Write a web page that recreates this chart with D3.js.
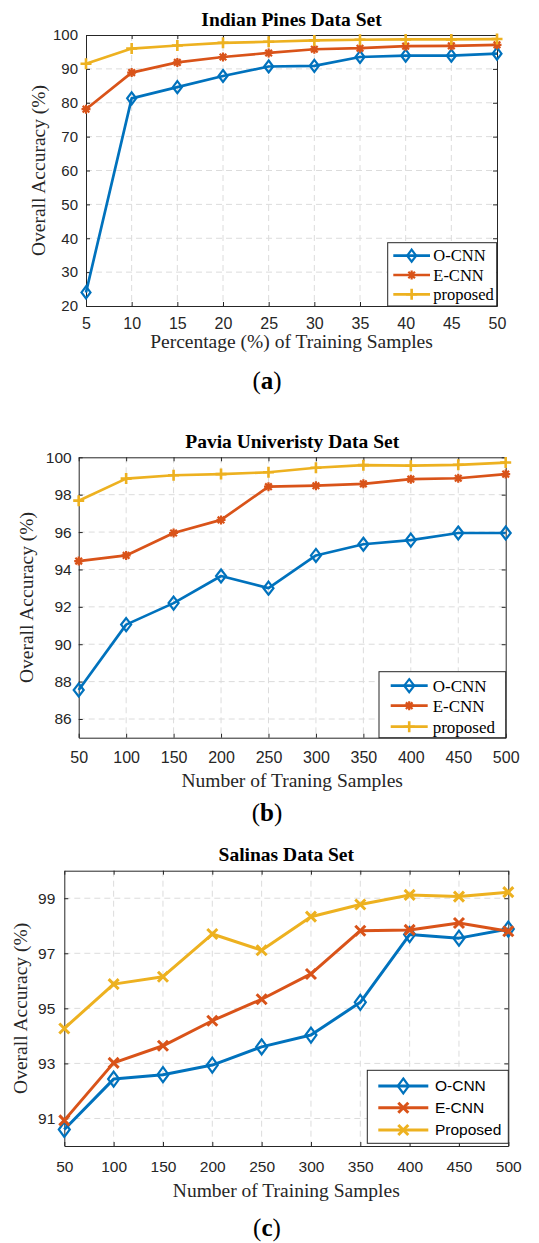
<!DOCTYPE html>
<html>
<head>
<meta charset="utf-8">
<script src="https://cdn.jsdelivr.net/npm/d3@7"></script>
<style>
  body { margin: 0; background: #fff; }
  svg { display: block; }
</style>
</head>
<body>
<svg id="fig" width="539" height="1243"></svg>
<script>
// ---- Indian Pines: accuracy vs. percentage of training samples ----
const pinesPercent  = [5, 10, 15, 20, 25, 30, 35, 40, 45, 50];
const pinesOCNN     = [24.0, 81.3, 84.6, 87.9, 90.7, 90.9, 93.5, 93.9, 93.9, 94.5];
const pinesECNN     = [78.1, 88.9, 91.9, 93.5, 94.7, 95.8, 96.1, 96.7, 96.8, 97.1];
const pinesProposed = [91.5, 96.0, 96.9, 97.7, 98.0, 98.4, 98.6, 98.7, 98.7, 98.8];
const pinesYTicks   = [20, 30, 40, 50, 60, 70, 80, 90, 100];

// ---- Pavia University: accuracy vs. number of training samples ----
const paviaSamples  = [50, 100, 150, 200, 250, 300, 350, 400, 450, 500];
const paviaOCNN     = [87.55, 91.05, 92.2, 93.65, 93.0, 94.75, 95.35, 95.57, 95.95, 95.95];
const paviaECNN     = [94.45, 94.75, 95.95, 96.65, 98.43, 98.48, 98.58, 98.83, 98.88, 99.1];
const paviaProposed = [97.68, 98.86, 99.04, 99.1, 99.2, 99.44, 99.58, 99.55, 99.6, 99.72];
const paviaYTicks   = [86, 88, 90, 92, 94, 96, 98, 100];

// ---- Salinas: accuracy vs. number of training samples ----
const salinasSamples  = [50, 100, 150, 200, 250, 300, 350, 400, 450, 500];
const salinasOCNN     = [90.6, 92.43, 92.59, 92.94, 93.6, 94.03, 95.22, 97.68, 97.55, 97.88];
const salinasECNN     = [90.93, 93.02, 93.64, 94.55, 95.33, 96.25, 97.82, 97.85, 98.1, 97.8];
const salinasProposed = [94.27, 95.88, 96.15, 97.7, 97.11, 98.33, 98.77, 99.12, 99.06, 99.22];
const salinasYTicks   = [91, 93, 95, 97, 99];

const seriesColors = ["#0072BD", "#D95319", "#EDB120"];
const axisColor = "#262626";
const gridColor = "#dcdcdc";

const panels = [
  {
    title: "Indian Pines Data Set",
    xLabel: "Percentage (%) of Training Samples",
    caption: "a",
    x: pinesPercent, xTicks: pinesPercent,
    yDomain: [20, 100], yTicks: pinesYTicks,
    series: [pinesOCNN, pinesECNN, pinesProposed],
    names: ["O-CNN", "E-CNN", "proposed"],
    markers: ["diamond", "asterisk", "plus"],
    layout: {
      left: 86, right: 497, top: 35, bottom: 306,
      titleY: 26, xLabelY: 348, captionY: 389, yLabelX: 38.5,
      xPad: 12, yPad: 8, xTickFont: 16, yTickFont: 15,
      lineW: 2.7, dia: [4.5, 6], legendSans: false,
      legend: { x0: 387.7, x1: 496.7, y0: 242.7, y1: 306, rows: [255.7, 275, 294.3],
                lineX0: 393.3, lineX1: 430, textX: 433.3, font: 16.5 }
    }
  },
  {
    title: "Pavia Univeristy Data Set",
    xLabel: "Number of Traning Samples",
    caption: "b",
    x: paviaSamples, xTicks: paviaSamples,
    yDomain: [85, 100], yTicks: paviaYTicks,
    series: [paviaOCNN, paviaECNN, paviaProposed],
    names: ["O-CNN", "E-CNN", "proposed"],
    markers: ["diamond", "asterisk", "plus"],
    layout: {
      left: 78.7, right: 505.7, top: 457.3, bottom: 737.7,
      titleY: 447.7, xLabelY: 786.7, captionY: 821, yLabelX: 26,
      xPad: 14, yPad: 7, xTickFont: 16, yTickFont: 15.5,
      lineW: 2.7, dia: [5, 6.5], legendSans: false,
      legend: { x0: 379, x1: 505.7, y0: 671.7, y1: 737.7, rows: [685.7, 705.7, 726.7],
                lineX0: 390.7, lineX1: 427.7, textX: 432.7, font: 17 }
    }
  },
  {
    title: "Salinas Data Set",
    xLabel: "Number of Training Samples",
    caption: "c",
    x: salinasSamples, xTicks: salinasSamples,
    yDomain: [90, 100], yTicks: salinasYTicks,
    series: [salinasOCNN, salinasECNN, salinasProposed],
    names: ["O-CNN", "E-CNN", "Proposed"],
    markers: ["diamond", "cross", "cross"],
    layout: {
      left: 64.3, right: 508.3, top: 870.7, bottom: 1146,
      titleY: 860.7, xLabelY: 1196.7, captionY: 1236, yLabelX: 20,
      xPad: 15, yPad: 9, xTickFont: 15.5, yTickFont: 15.5,
      lineW: 3, dia: [5.5, 7.5], legendSans: true,
      legend: { x0: 367.3, x1: 508.3, y0: 1070.3, y1: 1143.3, rows: [1086, 1107.7, 1130],
                lineX0: 378.3, lineX1: 428.3, textX: 435, font: 15.5 }
    }
  }
];

const svg = d3.select("#fig");
const serif = "'Liberation Serif', 'Times New Roman', serif";
const sans = "'Liberation Sans', Arial, Helvetica, sans-serif";

// Marker shapes drawn as paths centred on (0,0)
function markerPath(kind, L) {
  switch (kind) {
    case "diamond": {
      const w = L.dia[0], h = L.dia[1];
      return `M0,${-h}L${w},0L0,${h}L${-w},0Z`;
    }
    case "plus":
      return "M-5.5,0H5.5M0,-5.5V5.5";
    case "asterisk":
      return "M-4.5,0H4.5M0,-4.5V4.5M-3.3,-3.3L3.3,3.3M-3.3,3.3L3.3,-3.3";
    case "cross":
      return "M-5,-5L5,5M-5,5L5,-5";
  }
}
function markerStroke(kind) {
  if (kind === "diamond") return 2.2;
  if (kind === "cross") return 3;
  if (kind === "plus") return 2.6;
  return 2.2;
}

panels.forEach(p => {
  const L = p.layout;
  const g = svg.append("g");
  const xs = d3.scaleLinear().domain(d3.extent(p.x)).range([L.left, L.right]);
  const ys = d3.scaleLinear().domain(p.yDomain).range([L.bottom, L.top]);

  // white plot area
  g.append("rect").attr("x", L.left).attr("y", L.top)
    .attr("width", L.right - L.left).attr("height", L.bottom - L.top).attr("fill", "#fff");

  // dashed grid
  const grid = g.append("g").attr("stroke", gridColor).attr("stroke-width", 1)
    .attr("stroke-dasharray", "6,4");
  grid.selectAll("line.v").data(p.xTicks.slice(1, -1)).join("line")
    .attr("x1", d => xs(d)).attr("x2", d => xs(d)).attr("y1", L.top).attr("y2", L.bottom);
  grid.selectAll("line.h").data(p.yTicks.filter(t => t > p.yDomain[0] && t < p.yDomain[1])).join("line")
    .attr("y1", d => ys(d)).attr("y2", d => ys(d)).attr("x1", L.left).attr("x2", L.right);

  // axes: labelled bottom/left, unlabelled top/right, all ticks pointing inward
  const styleAxis = (sel, fontSize) => {
    sel.selectAll("path.domain").attr("stroke", axisColor).attr("stroke-width", 1);
    sel.selectAll(".tick line").attr("stroke", axisColor).attr("stroke-width", 1);
    sel.selectAll(".tick text").attr("fill", axisColor)
      .style("font-family", sans).style("font-size", fontSize + "px");
  };
  const xAxis = g.append("g").attr("transform", `translate(0,${L.bottom})`)
    .call(d3.axisBottom(xs).tickValues(p.xTicks).tickSizeInner(-4).tickSizeOuter(0).tickPadding(L.xPad));
  styleAxis(xAxis, L.xTickFont);
  const yAxis = g.append("g").attr("transform", `translate(${L.left},0)`)
    .call(d3.axisLeft(ys).tickValues(p.yTicks).tickSizeInner(-4).tickSizeOuter(0).tickPadding(L.yPad));
  styleAxis(yAxis, L.yTickFont);
  const xTop = g.append("g").attr("transform", `translate(0,${L.top})`)
    .call(d3.axisTop(xs).tickValues(p.xTicks).tickSizeInner(-4).tickSizeOuter(0).tickFormat(""));
  styleAxis(xTop, 10);
  const yRight = g.append("g").attr("transform", `translate(${L.right},0)`)
    .call(d3.axisRight(ys).tickValues(p.yTicks).tickSizeInner(-4).tickSizeOuter(0).tickFormat(""));
  styleAxis(yRight, 10);

  // series lines and markers
  const line = d3.line().x((d, i) => xs(p.x[i])).y(d => ys(d));
  p.series.forEach((vals, si) => {
    const col = seriesColors[si];
    g.append("path").datum(vals).attr("d", line).attr("fill", "none")
      .attr("stroke", col).attr("stroke-width", L.lineW).attr("stroke-linejoin", "round");
    g.selectAll(null).data(vals).join("path")
      .attr("transform", (d, i) => `translate(${xs(p.x[i])},${ys(d)})`)
      .attr("d", markerPath(p.markers[si], L)).attr("fill", "none")
      .attr("stroke", col).attr("stroke-width", markerStroke(p.markers[si]));
  });

  // legend
  const lg = L.legend;
  const leg = g.append("g");
  leg.append("rect").attr("x", lg.x0).attr("y", lg.y0)
    .attr("width", lg.x1 - lg.x0).attr("height", lg.y1 - lg.y0)
    .attr("fill", "#fff").attr("stroke", axisColor).attr("stroke-width", 1);
  p.names.forEach((name, si) => {
    const y = lg.rows[si], col = seriesColors[si];
    leg.append("line").attr("x1", lg.lineX0).attr("x2", lg.lineX1).attr("y1", y).attr("y2", y)
      .attr("stroke", col).attr("stroke-width", L.lineW);
    leg.append("path").attr("transform", `translate(${(lg.lineX0 + lg.lineX1) / 2},${y})`)
      .attr("d", markerPath(p.markers[si], L)).attr("fill", "none")
      .attr("stroke", col).attr("stroke-width", markerStroke(p.markers[si]));
    leg.append("text").attr("x", lg.textX).attr("y", y).attr("dy", "0.35em")
      .attr("fill", "#000").style("font-family", L.legendSans ? sans : serif)
      .style("font-size", lg.font + "px").text(name);
  });

  // title, axis labels, sub-caption
  const cx = (L.left + L.right) / 2;
  g.append("text").attr("x", cx).attr("y", L.titleY).attr("text-anchor", "middle")
    .style("font-family", serif).style("font-weight", "bold").style("font-size", "19.5px")
    .attr("fill", "#000").text(p.title);
  g.append("text").attr("x", cx).attr("y", L.xLabelY).attr("text-anchor", "middle")
    .style("font-family", serif).style("font-size", "19.5px").attr("fill", axisColor).text(p.xLabel);
  g.append("text")
    .attr("transform", `translate(${L.yLabelX},${(L.top + L.bottom) / 2}) rotate(-90)`)
    .attr("dy", "0.35em").attr("text-anchor", "middle")
    .style("font-family", serif).style("font-size", "19.5px").attr("fill", axisColor)
    .text("Overall Accuracy (%)");
  const cap = g.append("text").attr("x", 267).attr("y", L.captionY).attr("text-anchor", "middle")
    .style("font-family", serif).style("font-size", "25px").attr("fill", "#000");
  cap.append("tspan").text("(");
  cap.append("tspan").style("font-weight", "bold").text(p.caption);
  cap.append("tspan").text(")");
});
</script>
</body>
</html>
